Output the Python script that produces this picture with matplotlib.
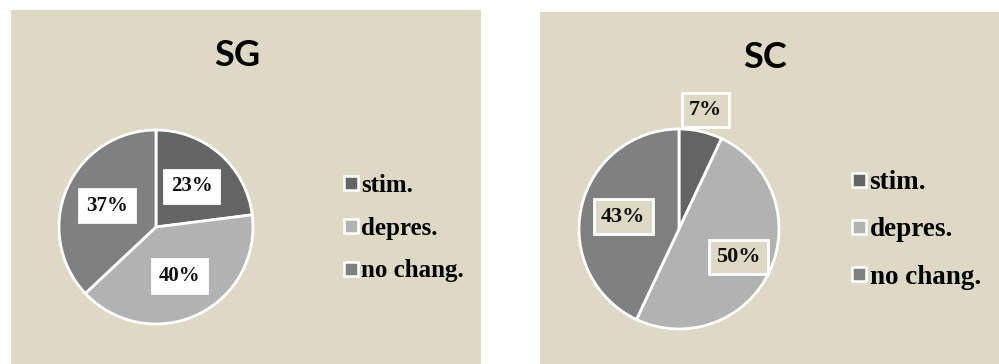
import numpy as np
import matplotlib.pyplot as plt
from matplotlib.patches import Rectangle
from matplotlib.lines import Line2D

plt.rcParams['font.family'] = 'Liberation Serif'

categories = ['stim.', 'depres.', 'no chang.']
sg_values = [23, 40, 37]
sc_values = [7, 50, 43]
colors = ['#646464', '#b2b2b2', '#808080']
panel_bg = '#ddd9c4'

W, H = 999, 364


def px_axes(fig, cx, cy, r, lim=1.25):
    """Square axes centred on pixel (cx, cy) with pie radius r pixels."""
    size = 2 * lim * r
    ax = fig.add_axes([(cx - size / 2) / W, (H - cy - size / 2) / H, size / W, size / H])
    ax.set_xlim(-lim, lim)
    ax.set_ylim(-lim, lim)
    ax.axis('off')
    return ax


def draw_pie(ax, values, dists, box_face, fontsize):
    wedges, _ = ax.pie(values, colors=colors, startangle=90, counterclock=False,
                       wedgeprops=dict(edgecolor='white', linewidth=2))
    total = float(sum(values))
    start = 90.0
    for v, d in zip(values, dists):
        mid = np.deg2rad(start - 360 * v / total / 2)
        start -= 360 * v / total
        ax.text(d * np.cos(mid), d * np.sin(mid), f'{v}%', ha='center', va='center',
                fontsize=fontsize, fontweight='bold', color='#111111',
                bbox=dict(boxstyle='square,pad=0.32', fc=box_face, ec='white', lw=2))
    return wedges


def add_legend(fig, x, y, fontsize, spacing):
    handles = [Line2D([], [], linestyle='none', marker='s', markersize=10,
                      markerfacecolor=c, markeredgecolor='white', markeredgewidth=1.8)
               for c in colors]
    fig.legend(handles, categories, loc='center left', bbox_to_anchor=(x / W, 1 - y / H),
               frameon=False, handlelength=0.5, handletextpad=0.15, labelspacing=spacing,
               borderpad=0, borderaxespad=0,
               prop=dict(family='Liberation Serif', weight='bold', size=fontsize))


fig = plt.figure(figsize=(W / 100, H / 100), dpi=100)
fig.patch.set_facecolor('white')

# beige chart areas
fig.add_artist(Rectangle((11 / W, 0), 470 / W, 354 / H, transform=fig.transFigure,
                         fc=panel_bg, ec='none', zorder=0))
fig.add_artist(Rectangle((540 / W, 0), 459 / W, 352 / H, transform=fig.transFigure,
                         fc=panel_bg, ec='none', zorder=0))

fig.text(237 / W, 1 - 56 / H, 'SG', ha='center', va='center', fontsize=26,
         fontweight='bold', family='Lato')
fig.text(765 / W, 1 - 58 / H, 'SC', ha='center', va='center', fontsize=26,
         fontweight='bold', family='Lato')

ax1 = px_axes(fig, 156, 227, 97)
draw_pie(ax1, sg_values, [0.56, 0.56, 0.55], 'white', 15)
add_legend(fig, 345, 228, 18, 0.8)

ax2 = px_axes(fig, 679, 229, 100)
draw_pie(ax2, sc_values, [1.22, 0.66, 0.57], panel_bg, 16)
add_legend(fig, 852, 230, 19.5, 0.82)

fig.savefig('out.png', dpi=100, facecolor=fig.get_facecolor())
